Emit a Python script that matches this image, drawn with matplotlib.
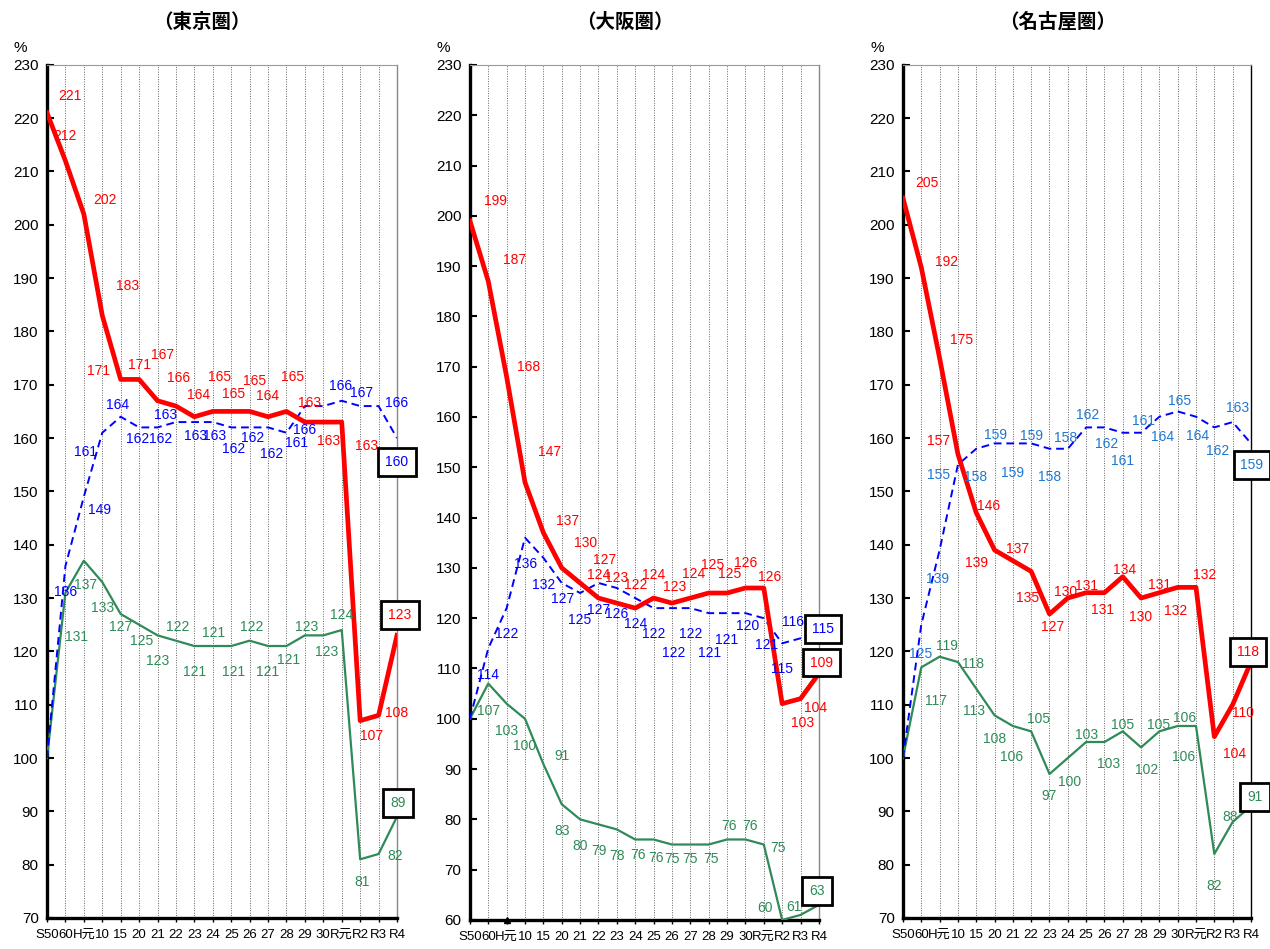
import matplotlib
matplotlib.use("Agg")
import matplotlib.pyplot as plt
import numpy as np

plt.rcParams['font.family'] = ['Liberation Sans', 'Noto Sans CJK JP', 'DejaVu Sans']

categories = ['S50', '60', 'H元', '10', '15', '20', '21', '22', '23', '24', '25',
              '26', '27', '28', '29', '30', 'R元', 'R2', 'R3', 'R4']

# 東京圏
tokyo_red = [221, 212, 202, 183, 171, 171, 167, 166, 164, 165, 165, 165, 164, 165,
             163, 163, 163, 107, 108, 123]
tokyo_blue = [100, 136, 149, 161, 164, 162, 162, 163, 163, 163, 162, 162, 162, 161,
              166, 166, 167, 166, 166, 160]
tokyo_green = [100, 131, 137, 133, 127, 125, 123, 122, 121, 121, 121, 122, 121, 121,
               123, 123, 124, 81, 82, 89]

# 大阪圏
osaka_red = [199, 187, 168, 147, 137, 130, 127, 124, 123, 122, 124, 123, 124, 125,
             125, 126, 126, 103, 104, 109]
osaka_blue = [100, 114, 122, 136, 132, 127, 125, 127, 126, 124, 122, 122, 122, 121,
              121, 121, 120, 115, 116, 115]
osaka_green = [100, 107, 103, 100, 91, 83, 80, 79, 78, 76, 76, 75, 75, 75,
               76, 76, 75, 60, 61, 63]

# 名古屋圏
nagoya_red = [205, 192, 175, 157, 146, 139, 137, 135, 127, 130, 131, 131, 134, 130,
              131, 132, 132, 104, 110, 118]
nagoya_blue = [100, 125, 139, 155, 158, 159, 159, 159, 158, 158, 162, 162, 161, 161,
               164, 165, 164, 162, 163, 159]
nagoya_green = [100, 117, 119, 118, 113, 108, 106, 105, 97, 100, 103, 103, 105, 102,
                105, 106, 106, 82, 88, 91]

# label offsets in pixels (None = no label)
tokyo_red_off = [(23, 17), (0, 25), (21, 14), (25, 29), (-22, 8), (0, 14), (5, 46), (3, 28),
                 (4, 22), (7, 34), (2, 17), (5, 30), (0, 21), (6, 34), (5, 19), (5, -19),
                 (25, -24), (11, -15), (18, 2), (3, 20)]
tokyo_blue_off = [None, (0, -26), (16, -13), (-17, -19), (-3, 12), (-1, -12), (3, -12),
                  (-10, 7), (1, -14), (2, -14), (2, -22), (3, -11), (4, -27), (10, -10),
                  (0, -24), (17, 20), (20, 8), None, (18, 3), (0, -24)]
tokyo_green_off = [None, (11, -44), (2, -24), (0, -26), (0, -13), (3, -16), (0, -26),
                   (2, 14), (0, -26), (1, 13), (2, -26), (2, 14), (0, -26), (2, -14),
                   (2, 8), (3, -17), (0, 15), (2, -23), (17, -2), (1, 14)]

osaka_red_off = [(26, 20), (26, 21), (22, 10), (25, 30), (24, 12), (24, 25), (25, 23),
                 (0, 23), (0, 25), (0, 23), (0, 23), (3, 16), (3, 24), (4, 28), (3, 19),
                 (0, 25), (6, 11), (20, -19), (15, -9), (3, 11)]
osaka_blue_off = [None, (0, -27), (0, -26), (1, -26), (0, -27), (1, -16), (0, -27),
                  (0, -27), (0, -26), (0, -26), (0, -26), (2, -45), (0, -26), (1, -40),
                  (0, -27), (21, -32), (-16, -8), (0, -26), (-8, 16), (4, 14)]
osaka_green_off = [None, (0, -27), (0, -27), (0, -27), (19, 8), (0, -27), (0, -27),
                   (0, -27), (0, -27), (3, -16), (2, -19), (0, -14), (0, -14), (2, -14),
                   (2, 13), (5, 13), (14, -3), (-17, 12), (-7, 8), (-2, 14)]

nagoya_red_off = [(24, 15), (25, 5), (22, 18), (-19, 13), (12, 7), (-18, -13), (5, 12),
                  (-4, -27), (3, -13), (-2, 6), (0, 7), (-2, -17), (2, 7), (0, -19),
                  (0, 8), (-2, -24), (9, 12), (20, -17), (10, -8), (-3, 10)]
nagoya_blue_off = [None, (-1, -29), (-2, -29), (-19, -10), (-1, -28), (1, 8), (0, -30),
                   (0, 7), (0, -28), (-2, 11), (2, 12), (2, -17), (0, -28), (2, 12),
                   (3, -20), (2, 10), (2, -19), (3, -24), (5, 14), (1, -22)]
nagoya_green_off = [None, (15, -34), (7, 11), (15, -2), (-2, -22), (0, -24), (-1, -31),
                    (7, 12), (0, -22), (2, -24), (0, 7), (4, -22), (0, 6), (6, -23),
                    (-1, 6), (7, 8), (-12, -31), (0, -32), (-3, 5), (4, 9)]

RED = '#ff0000'
BLUE = '#0000ff'
GREEN = '#2e8b57'

panels = [
    ('（東京圏）', 70, tokyo_red, tokyo_blue, tokyo_green,
     tokyo_red_off, tokyo_blue_off, tokyo_green_off, BLUE, [0.037, 0.0327, 0.2756, 0.899]),
    ('（大阪圏）', 60, osaka_red, osaka_blue, osaka_green,
     osaka_red_off, osaka_blue_off, osaka_green_off, BLUE, [0.370, 0.0306, 0.2748, 0.901]),
    ('（名古屋圏）', 70, nagoya_red, nagoya_blue, nagoya_green,
     nagoya_red_off, nagoya_blue_off, nagoya_green_off, '#1f77d0', [0.711, 0.0327, 0.274, 0.899]),
]

fig = plt.figure(figsize=(12.7, 9.49), dpi=100)

for k, (title, ymin, red, blue, green, roff, boff, goff, blab, rect) in enumerate(panels):
    ax = fig.add_axes(rect)
    x = np.arange(len(categories))
    ax.plot(x, green, color=GREEN, lw=1.6, zorder=3)
    ax.plot(x, blue, color=BLUE, lw=1.4, ls=(0, (4, 2.5)), zorder=4)
    ax.plot(x, red, color=RED, lw=3.4, zorder=5)

    for vals, offs, col in [(red, roff, RED), (blue, boff, blab), (green, goff, GREEN)]:
        for i, (v, o) in enumerate(zip(vals, offs)):
            if o is None:
                continue
            bbox = None
            if i == len(vals) - 1:
                bbox = dict(boxstyle='square,pad=0.5', fc='white', ec='black', lw=2.0)
            ax.annotate(str(v), (i, v), xytext=o, textcoords='offset pixels',
                        ha='center', va='center', color=col, fontsize=10,
                        bbox=bbox, annotation_clip=False, zorder=6)

    if k == 1:
        # small marker on the axis at H元
        ax.plot([categories.index('H元')], [ymin], marker='^', color='black', ms=5,
                clip_on=False, zorder=7)

    ax.set_xlim(0, len(categories) - 1)
    ax.set_ylim(ymin, 230)
    ax.set_yticks(np.arange(ymin, 231, 10))
    ax.set_xticks(x)
    ax.set_xticklabels(categories, fontsize=9.5)
    ax.tick_params(axis='y', direction='in', length=5, width=1.5, labelsize=11, pad=6)
    ax.tick_params(axis='x', direction='out', length=3, width=1, pad=5)
    ax.xaxis.grid(True, color='#666666', ls=(0, (1, 1.5)), lw=0.7)
    ax.set_axisbelow(True)

    for s in ['left', 'bottom']:
        ax.spines[s].set_linewidth(2.4)
        ax.spines[s].set_color('black')
    ax.spines['top'].set_linewidth(0.8)
    ax.spines['top'].set_color('#999999')
    ax.spines['right'].set_linewidth(1.0)
    ax.spines['right'].set_color('black' if k == 2 else '#888888')

    ax.text(0.443, 1.05, title, transform=ax.transAxes, ha='center', va='center',
            fontsize=14, fontweight='bold', family=['Noto Sans CJK JP', 'DejaVu Sans'])
    ax.text(-0.075, 1.02, '%', transform=ax.transAxes, ha='center', va='center',
            fontsize=11)

fig.savefig('out.png', dpi=100)
